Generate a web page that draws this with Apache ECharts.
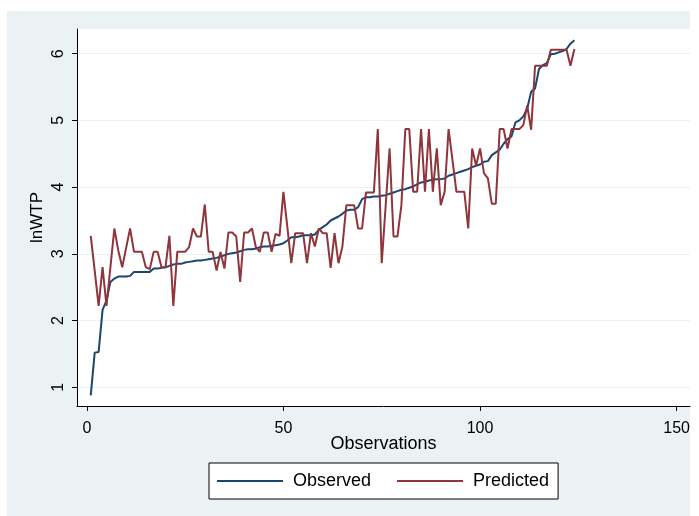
<!DOCTYPE html>
<html>
<head>
<meta charset="utf-8">
<script src="https://cdn.jsdelivr.net/npm/echarts@6/dist/echarts.min.js"></script>
<style>
  html, body { margin: 0; padding: 0; background: #ffffff; }
  #panel { position: absolute; left: 7px; top: 11px; width: 683px; height: 505px; background: #eaf2f3; }
  #chart { position: absolute; left: 0; top: 0; width: 699px; height: 516px; }
</style>
</head>
<body>
<div id="panel"></div>
<div id="chart"></div>
<script>
// Observed lnWTP, sorted ascending, observations 1..124
const observed = [
  0.88, 1.52, 1.53, 2.16, 2.30, 2.58, 2.63, 2.66, 2.66, 2.66,
  2.67, 2.73, 2.73, 2.73, 2.73, 2.73, 2.78, 2.78, 2.79, 2.80,
  2.82, 2.84, 2.85, 2.85, 2.87, 2.88, 2.89, 2.90, 2.90, 2.91,
  2.92, 2.93, 2.94, 2.96, 2.98, 3.00, 3.01, 3.02, 3.04, 3.06,
  3.07, 3.07, 3.08, 3.10, 3.11, 3.11, 3.12, 3.13, 3.14, 3.16,
  3.20, 3.25, 3.25, 3.26, 3.28, 3.28, 3.28, 3.29, 3.36, 3.40,
  3.44, 3.50, 3.53, 3.56, 3.60, 3.65, 3.66, 3.66, 3.70, 3.82,
  3.85, 3.85, 3.86, 3.86, 3.87, 3.88, 3.90, 3.92, 3.94, 3.96,
  3.97, 3.99, 4.01, 4.04, 4.07, 4.08, 4.10, 4.11, 4.12, 4.12,
  4.13, 4.17, 4.19, 4.21, 4.23, 4.25, 4.27, 4.30, 4.32, 4.34,
  4.38, 4.39, 4.48, 4.52, 4.56, 4.65, 4.72, 4.76, 4.97, 5.00,
  5.06, 5.18, 5.43, 5.48, 5.77, 5.83, 5.86, 5.99, 6.00, 6.02,
  6.04, 6.07, 6.15, 6.20
];

// Model-predicted lnWTP for the same observations
const predicted = [
  3.27, 2.75, 2.22, 2.80, 2.22, 2.80, 3.38, 3.05, 2.80, 3.09,
  3.38, 3.03, 3.03, 3.03, 2.80, 2.77, 3.03, 3.03, 2.80, 2.80,
  3.27, 2.22, 3.03, 3.03, 3.03, 3.10, 3.38, 3.26, 3.26, 3.74,
  3.03, 3.03, 2.75, 3.03, 2.78, 3.32, 3.32, 3.26, 2.58, 3.32,
  3.32, 3.38, 3.10, 3.03, 3.32, 3.32, 3.03, 3.30, 3.27, 3.93,
  3.40, 2.86, 3.31, 3.31, 3.31, 2.86, 3.31, 3.11, 3.38, 3.31,
  3.31, 2.79, 3.31, 2.86, 3.11, 3.73, 3.73, 3.73, 3.38, 3.38,
  3.92, 3.92, 3.92, 4.87, 2.86, 3.72, 4.58, 3.26, 3.26, 3.73,
  4.87, 4.87, 3.93, 3.93, 4.87, 3.93, 4.87, 3.93, 4.58, 3.73,
  3.93, 4.87, 4.40, 3.93, 3.93, 3.93, 3.38, 4.58, 4.32, 4.58,
  4.21, 4.13, 3.75, 3.75, 4.87, 4.87, 4.58, 4.87, 4.87, 4.87,
  4.93, 5.22, 4.86, 5.82, 5.82, 5.82, 5.82, 6.06, 6.06, 6.06,
  6.06, 6.06, 5.82, 6.07
];

const xTicks = [0, 50, 100, 150];
const yTicks = [1, 2, 3, 4, 5, 6];

const seriesNames = ['Observed', 'Predicted'];
const colors = ['#1a476f', '#90353b'];

// pair each value with its observation number
const toPoints = arr => arr.map((v, i) => [i + 1, v]);

const chart = echarts.init(document.getElementById('chart'), null, { renderer: 'canvas' });
const font = 'Liberation Sans, Arial, sans-serif';

chart.setOption({
  animation: false,
  backgroundColor: 'transparent',
  textStyle: { fontFamily: font },
  grid: {
    left: 77, top: 29, right: 9, bottom: 110,
    show: true, backgroundColor: '#ffffff', borderWidth: 0
  },
  xAxis: {
    type: 'value',
    min: -2.5, max: 153.4,
    name: 'Observations',
    nameLocation: 'middle',
    nameGap: 29,
    nameMoveOverlap: false,
    nameTextStyle: { fontSize: 18, color: '#000', fontFamily: font },
    axisLine: { show: true, onZero: false, lineStyle: { color: '#000', width: 1 } },
    axisTick: { show: true, length: 5, customValues: xTicks, lineStyle: { color: '#000' } },
    axisLabel: { customValues: xTicks, fontSize: 16, color: '#000', margin: 15, fontFamily: font },
    splitLine: { show: false }
  },
  yAxis: {
    type: 'value',
    min: 0.72, max: 6.37,
    name: 'lnWTP',
    nameLocation: 'middle',
    nameRotate: 90,
    nameGap: 31,
    nameMoveOverlap: false,
    nameTextStyle: { fontSize: 17, color: '#000', fontFamily: font },
    axisLine: { show: true, onZero: false, lineStyle: { color: '#000', width: 1 } },
    axisTick: { show: true, length: 5, customValues: yTicks, lineStyle: { color: '#000' } },
    axisLabel: { customValues: yTicks, rotate: 90, fontSize: 16, color: '#000', margin: 10, fontFamily: font },
    splitLine: { show: true, lineStyle: { color: '#eaf2f3', width: 1 } }
  },
  legend: {
    data: seriesNames,
    left: 209, top: 463,
    orient: 'horizontal',
    backgroundColor: '#ffffff',
    borderColor: '#000',
    borderWidth: 1,
    borderRadius: 0,
    padding: [9, 9, 9, 8],
    itemGap: 26,
    itemWidth: 66,
    itemHeight: 2,
    icon: 'rect',
    textStyle: { fontSize: 18, color: '#000', fontFamily: font, padding: [0, 0, 0, 5] }
  },
  series: [
    {
      name: seriesNames[0],
      type: 'line',
      data: toPoints(observed),
      symbol: 'none',
      color: colors[0],
      lineStyle: { color: colors[0], width: 2 },
      z: 2
    },
    {
      name: seriesNames[1],
      type: 'line',
      data: toPoints(predicted),
      symbol: 'none',
      color: colors[1],
      lineStyle: { color: colors[1], width: 2 },
      z: 3
    }
  ]
});
</script>
</body>
</html>
